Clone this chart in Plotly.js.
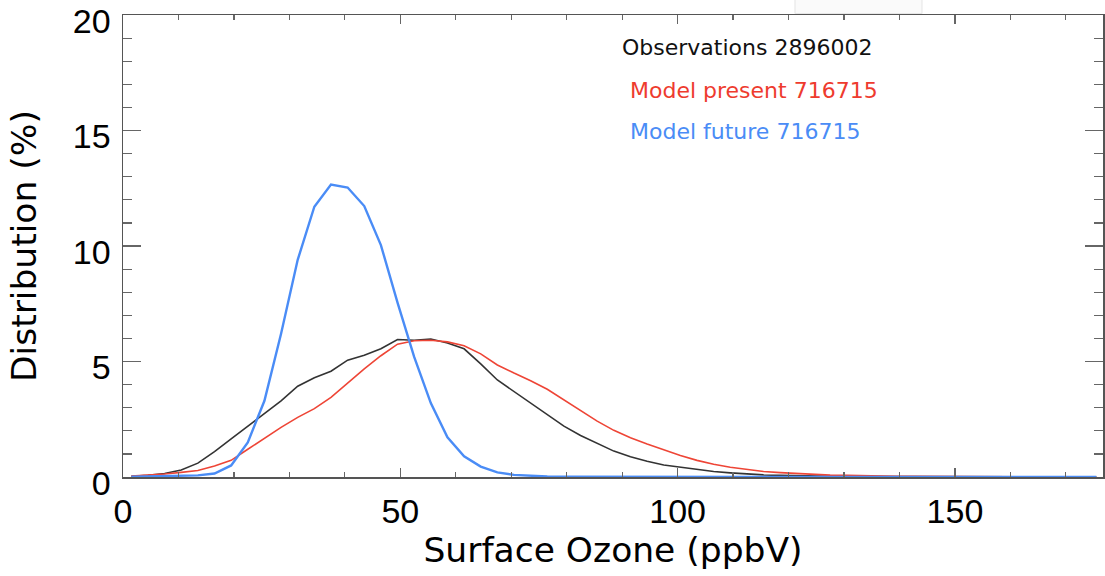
<!DOCTYPE html>
<html>
<head>
<meta charset="utf-8">
<script src="https://cdn.plot.ly/plotly-3.0.1.min.js"></script>
<style>html,body{margin:0;padding:0;background:#fff;}#chart{width:1105px;height:576px;}</style>
</head>
<body>
<div id="chart"></div>
<script>
// Bin centres (ppbV)
const ozone = [1.5,4.5,7.5,10.5,13.5,16.5,19.5,22.5,25.5,28.5,31.5,34.5,37.5,40.5,43.5,46.5,49.5,52.5,55.5,58.5,61.5,64.5,67.5,70.5,73.5,76.5,79.5,82.5,85.5,88.5,91.5,94.5,97.5,100.5,103.5,106.5,109.5,112.5,115.5,118.5,121.5,124.5,127.5,130.5,133.5,136.5,139.5,142.5,145.5,148.5,151.5,154.5,157.5,160.5,163.5,166.5,169.5,172.5,175.5];

// Distribution (%)
const observations = [0.03,0.07,0.15,0.3,0.6,1.1,1.65,2.2,2.75,3.3,3.93,4.3,4.58,5.06,5.27,5.55,5.95,5.92,5.97,5.8,5.55,4.9,4.2,3.7,3.18,2.7,2.2,1.8,1.45,1.12,0.88,0.68,0.52,0.42,0.32,0.24,0.18,0.13,0.09,0.07,0.05,0.04,0.03,0.02,0.02,0.015,0.01,0.01,0.01,0.005,0.005,0.005,0.005,0.003,0.003,0.002,0.002,0.001,0.001];
const modelPresent = [0.04,0.08,0.13,0.2,0.28,0.48,0.72,1.2,1.68,2.15,2.58,2.96,3.45,4.08,4.68,5.25,5.75,5.9,5.92,5.85,5.68,5.33,4.85,4.5,4.17,3.8,3.35,2.87,2.42,2.02,1.7,1.43,1.18,0.93,0.72,0.55,0.42,0.32,0.24,0.19,0.15,0.11,0.08,0.07,0.05,0.04,0.03,0.025,0.02,0.015,0.012,0.01,0.008,0.006,0.005,0.004,0.003,0.002,0.002];
const modelFuture = [0.01,0.02,0.03,0.04,0.07,0.15,0.5,1.5,3.3,6.2,9.4,11.7,12.66,12.53,11.73,10.04,7.55,5.2,3.2,1.72,0.9,0.45,0.2,0.09,0.04,0.02,0.01,0.01,0.005,0.005,0.003,0.002,0.001,0.001,0,0,0,0,0,0,0,0,0,0,0,0,0,0,0,0,0,0,0,0,0,0,0,0,0];

const seriesNames = ["Observations 2896002","Model present 716715","Model future 716715"];
const seriesColors = ["#333333","#ee4536","#4a8cf6"];
const textColors = ["#111111","#ee3b2e","#4a8cf6"];
const xTicks = [0,50,100,150];
const yTicks = [0,5,10,15,20];

const traces = [
  {x: ozone, y: observations, name: seriesNames[0], mode: "lines", line: {color: seriesColors[0], width: 1.6}},
  {x: ozone, y: modelPresent, name: seriesNames[1], mode: "lines", line: {color: seriesColors[1], width: 1.6}},
  {x: ozone, y: modelFuture, name: seriesNames[2], mode: "lines", line: {color: seriesColors[2], width: 2.4}}
];

const axisCommon = {
  showgrid: false, zeroline: false, showline: true, linecolor: "#555", linewidth: 1.5,
  mirror: "allticks", ticks: "inside", tickcolor: "#666", tickwidth: 1.5,
  ticklabeloverflow: "allow",
  tickfont: {family: "Liberation Sans, Arial, sans-serif", size: 34, color: "#000"}
};

const legendY = [0.9286, 0.8355, 0.7489];
const legendX = [0.507, 0.5153, 0.5153];
const annotations = seriesNames.map((n, i) => ({
  xref: "paper", yref: "paper", x: legendX[i], y: legendY[i], xanchor: "left", yanchor: "middle",
  text: n, showarrow: false, font: {family: "DejaVu Sans, sans-serif", size: 22, color: textColors[i]}
}));

const layout = {
  width: 1105, height: 576,
  margin: {l: 123, r: 2, t: 15, b: 99, pad: 0},
  paper_bgcolor: "#fff", plot_bgcolor: "#fff",
  showlegend: false,
  xaxis: Object.assign({}, axisCommon, {
    range: [0, 176.7], tickvals: xTicks, ticklen: 9,
    minor: {dtick: 10, tick0: 0, ticks: "inside", ticklen: 5, tickcolor: "#666", tickwidth: 1.2},
    ticklabelstandoff: 4,
    title: {text: "Surface Ozone (ppbV)", standoff: 8, font: {family: "DejaVu Sans, sans-serif", size: 34.5, color: "#000"}}
  }),
  yaxis: Object.assign({}, axisCommon, {
    range: [0, 20], tickvals: yTicks, ticklen: 18,
    minor: {dtick: 1, tick0: 0, ticks: "inside", ticklen: 9, tickcolor: "#666", tickwidth: 1.2},
    ticklabelstandoff: 4, ticklabelshift: 6,
    title: {text: "Distribution (%)", standoff: 26, font: {family: "DejaVu Sans, sans-serif", size: 34.5, color: "#000"}}
  }),
  annotations: annotations,
  shapes: [{type: "rect", xref: "paper", yref: "paper", x0: 0.6857, x1: 0.8153, y0: 1.003, y1: 1.04,
            fillcolor: "#fafafa", line: {color: "#e4e4e4", width: 1}, layer: "below"}]
};

Plotly.newPlot("chart", traces, layout, {displayModeBar: false, staticPlot: true});
</script>
</body>
</html>
